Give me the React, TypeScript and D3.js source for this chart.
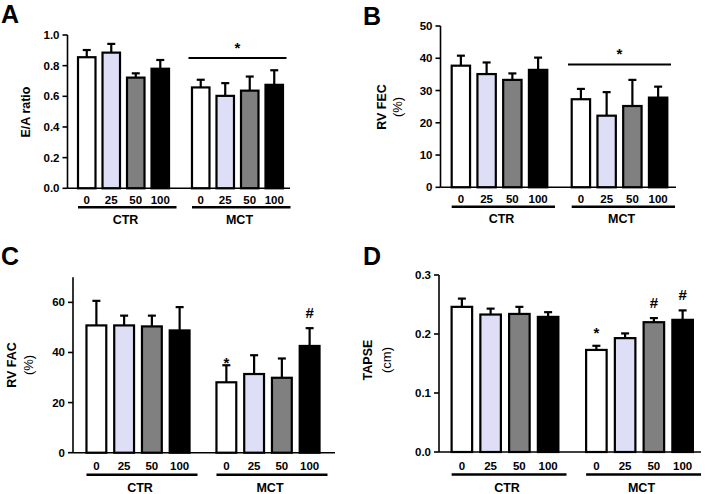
import React from "react";
import * as d3 from "d3";

// groups / doses on the x axis
const groups = ["CTR", "MCT"];
const doses = ["0", "25", "50", "100"];
const doseFills = ["#ffffff", "#dedef7", "#808080", "#000000"];

// A: E/A ratio
const eaCtr = [0.855, 0.885, 0.722, 0.78];
const eaCtrSem = [0.047, 0.057, 0.028, 0.057];
const eaMct = [0.658, 0.603, 0.637, 0.675];
const eaMctSem = [0.05, 0.083, 0.092, 0.095];
const eaTicks = [0, 0.2, 0.4, 0.6, 0.8, 1.0];
const eaSigLevel = 0.85;

// B: RV FEC (%)
const fecCtr = [37.7, 35.1, 33.3, 36.4];
const fecCtrSem = [3.1, 3.6, 2.0, 3.8];
const fecMct = [27.3, 22.2, 25.2, 27.8];
const fecMctSem = [3.2, 7.3, 8.1, 3.4];
const fecTicks = [0, 10, 20, 30, 40, 50];
const fecSigLevel = 38.1;

// C: RV FAC (%)
const facCtr = [50.8, 50.8, 50.4, 48.8];
const facCtrSem = [9.8, 3.9, 4.3, 9.3];
const facMct = [28.1, 31.4, 29.9, 42.6];
const facMctSem = [6.8, 7.5, 7.7, 7.1];
const facTicks = [0, 20, 40, 60];
const facMarks = [
  { group: "MCT", dose: "0", mark: "*" },
  { group: "MCT", dose: "100", mark: "#" },
];

// D: TAPSE (cm)
const tapseCtr = [0.246, 0.233, 0.234, 0.229];
const tapseCtrSem = [0.014, 0.01, 0.012, 0.008];
const tapseMct = [0.173, 0.193, 0.22, 0.224];
const tapseMctSem = [0.007, 0.008, 0.007, 0.016];
const tapseTicks = [0, 0.1, 0.2, 0.3];
const tapseMarks = [
  { group: "MCT", dose: "0", mark: "*" },
  { group: "MCT", dose: "50", mark: "#" },
  { group: "MCT", dose: "100", mark: "#" },
];

const FONT = "'Liberation Sans', Arial, Helvetica, sans-serif";

type Mark = { group: string; dose: string; mark: string };

type PanelProps = {
  letter: string;
  letterPos: [number, number];
  titles: string[];
  titleX: number[];
  titleY: number;
  axisX: number;
  yDomain: [number, number];
  yRange: [number, number];
  ticks: number[];
  fmt: string;
  groupRange: [number, number];
  groupPad: number;
  baseEnd: number;
  tickDy: number;
  lineDy: number;
  labelDy: number;
  means: number[][];
  sems: number[][];
  sigLevel?: number;
  marks?: Mark[];
  starGap?: number;
  hashGap?: number;
};

function Panel(p: PanelProps) {
  const y = d3.scaleLinear().domain(p.yDomain).range(p.yRange);
  const x0 = d3.scaleBand().domain(groups).range(p.groupRange).paddingInner(p.groupPad);
  const x1 = d3
    .scaleBand()
    .domain(doses)
    .range([0, x0.bandwidth()])
    .paddingInner(0.286)
    .paddingOuter(0.143);
  const bw = x1.bandwidth();
  const base = y(0);
  const f = d3.format(p.fmt);

  const markY = (gi: number, di: number, mark: string) => {
    const top = y(p.means[gi][di] + p.sems[gi][di]);
    return mark === "*" ? top - (p.starGap ?? 0) : top - (p.hashGap ?? 0);
  };

  return (
    <g>
      <text x={p.letterPos[0]} y={p.letterPos[1]} fontSize={25} fontWeight="bold" fontFamily={FONT}>
        {p.letter}
      </text>
      {p.titles.map((t, i) => (
        <text
          key={t}
          transform={`translate(${p.titleX[i]},${p.titleY}) rotate(-90)`}
          textAnchor="middle"
          dominantBaseline="central"
          fontSize={i === 0 ? 12.5 : 13}
          fontWeight={i === 0 ? "bold" : "normal"}
          fontFamily={FONT}
        >
          {t}
        </text>
      ))}
      {/* y axis */}
      <line x1={p.axisX} x2={p.axisX} y1={base} y2={p.yRange[1]} stroke="#000" strokeWidth={1.6} />
      {p.ticks.map((t) => (
        <g key={t}>
          <line x1={p.axisX - 5} x2={p.axisX} y1={y(t)} y2={y(t)} stroke="#000" strokeWidth={1.6} />
          <text
            x={p.axisX - 8}
            y={y(t)}
            textAnchor="end"
            dominantBaseline="central"
            fontSize={11.5}
            fontWeight="bold"
            fontFamily={FONT}
          >
            {f(t)}
          </text>
        </g>
      ))}
      {/* bars */}
      {groups.map((g, gi) =>
        doses.map((d, di) => {
          const bx = (x0(g) ?? 0) + (x1(d) ?? 0);
          const m = p.means[gi][di];
          const e = m + p.sems[gi][di];
          const cx = bx + bw / 2;
          return (
            <g key={g + d}>
              <line x1={cx} x2={cx} y1={y(m)} y2={y(e)} stroke="#000" strokeWidth={2.2} />
              <line x1={cx - 4} x2={cx + 4} y1={y(e)} y2={y(e)} stroke="#000" strokeWidth={2.2} />
              <rect
                x={bx}
                y={y(m)}
                width={bw}
                height={base - y(m)}
                fill={doseFills[di]}
                stroke="#000"
                strokeWidth={2.2}
              />
            </g>
          );
        })
      )}
      {/* x baseline */}
      <line x1={p.axisX} x2={p.baseEnd} y1={base} y2={base} stroke="#000" strokeWidth={1.6} />
      {groups.map((g) => {
        const gx = x0(g) ?? 0;
        return (
          <g key={g}>
            {doses.map((d) => (
              <text
                key={d}
                x={gx + (x1(d) ?? 0) + bw / 2}
                y={base + p.tickDy}
                textAnchor="middle"
                dominantBaseline="central"
                fontSize={11.5}
                fontWeight="bold"
                fontFamily={FONT}
              >
                {d}
              </text>
            ))}
            <line
              x1={gx + (x1("0") ?? 0)}
              x2={gx + x0.bandwidth() + 4}
              y1={base + p.lineDy}
              y2={base + p.lineDy}
              stroke="#000"
              strokeWidth={2.5}
            />
            <text
              x={gx + x0.bandwidth() / 2 + 2}
              y={base + p.labelDy}
              textAnchor="middle"
              dominantBaseline="central"
              fontSize={12.5}
              fontWeight="bold"
              fontFamily={FONT}
            >
              {g}
            </text>
          </g>
        );
      })}
      {p.sigLevel !== undefined && (
        <g>
          <line
            x1={x0("MCT") ?? 0}
            x2={(x0("MCT") ?? 0) + x0.bandwidth()}
            y1={y(p.sigLevel)}
            y2={y(p.sigLevel)}
            stroke="#000"
            strokeWidth={2}
          />
          <text
            x={(x0("MCT") ?? 0) + x0.bandwidth() / 2}
            y={y(p.sigLevel) - 5}
            textAnchor="middle"
            fontSize={15}
            fontWeight="bold"
            fontFamily={FONT}
          >
            *
          </text>
        </g>
      )}
      {(p.marks ?? []).map((mk, i) => {
        const gi = groups.indexOf(mk.group);
        const di = doses.indexOf(mk.dose);
        return (
          <text
            key={i}
            x={(x0(mk.group) ?? 0) + (x1(mk.dose) ?? 0) + bw / 2}
            y={markY(gi, di, mk.mark)}
            textAnchor="middle"
            fontSize={15}
            fontWeight="bold"
            fontFamily={FONT}
          >
            {mk.mark}
          </text>
        );
      })}
    </g>
  );
}

export default function App() {
  return (
    <svg
      width={709}
      height={494}
      style={{ position: "absolute", left: 0, top: 0, background: "#fff" }}
    >
      <rect width={709} height={494} fill="#fff" />
      <Panel
        letter="A"
        letterPos={[1, 23]}
        titles={["E/A ratio"]}
        titleX={[26]}
        titleY={112}
        axisX={67.5}
        yDomain={[0, 1]}
        yRange={[188.3, 35]}
        ticks={eaTicks}
        fmt=".1f"
        groupRange={[74.5, 286.5]}
        groupPad={0.14}
        baseEnd={290}
        tickDy={12}
        lineDy={19}
        labelDy={32}
        means={[eaCtr, eaMct]}
        sems={[eaCtrSem, eaMctSem]}
        sigLevel={eaSigLevel}
      />
      <Panel
        letter="B"
        letterPos={[363, 25]}
        titles={["RV FEC", "(%)"]}
        titleX={[382, 397]}
        titleY={107}
        axisX={440.5}
        yDomain={[0, 50]}
        yRange={[187.3, 26]}
        ticks={fecTicks}
        fmt="d"
        groupRange={[448, 671]}
        groupPad={0.142}
        baseEnd={676}
        tickDy={12}
        lineDy={19.5}
        labelDy={31.5}
        means={[fecCtr, fecMct]}
        sems={[fecCtrSem, fecMctSem]}
        sigLevel={fecSigLevel}
      />
      <Panel
        letter="C"
        letterPos={[1, 265]}
        titles={["RV FAC", "(%)"]}
        titleX={[12, 28]}
        titleY={365}
        axisX={73}
        yDomain={[0, 70]}
        yRange={[452.7, 277.3]}
        ticks={facTicks}
        fmt="d"
        groupRange={[82.5, 323.5]}
        groupPad={0.146}
        baseEnd={335}
        tickDy={13.5}
        lineDy={22}
        labelDy={35.5}
        means={[facCtr, facMct]}
        sems={[facCtrSem, facMctSem]}
        marks={facMarks}
        starGap={-3}
        hashGap={10}
      />
      <Panel
        letter="D"
        letterPos={[363, 265]}
        titles={["TAPSE", "(cm)"]}
        titleX={[368, 386]}
        titleY={360}
        axisX={439}
        yDomain={[0, 0.3]}
        yRange={[452, 275]}
        ticks={tapseTicks}
        fmt=".1f"
        groupRange={[447.5, 697]}
        groupPad={0.145}
        baseEnd={701}
        tickDy={13.5}
        lineDy={22.5}
        labelDy={36}
        means={[tapseCtr, tapseMct]}
        sems={[tapseCtrSem, tapseMctSem]}
        marks={tapseMarks}
        starGap={8}
        hashGap={10.5}
      />
    </svg>
  );
}
